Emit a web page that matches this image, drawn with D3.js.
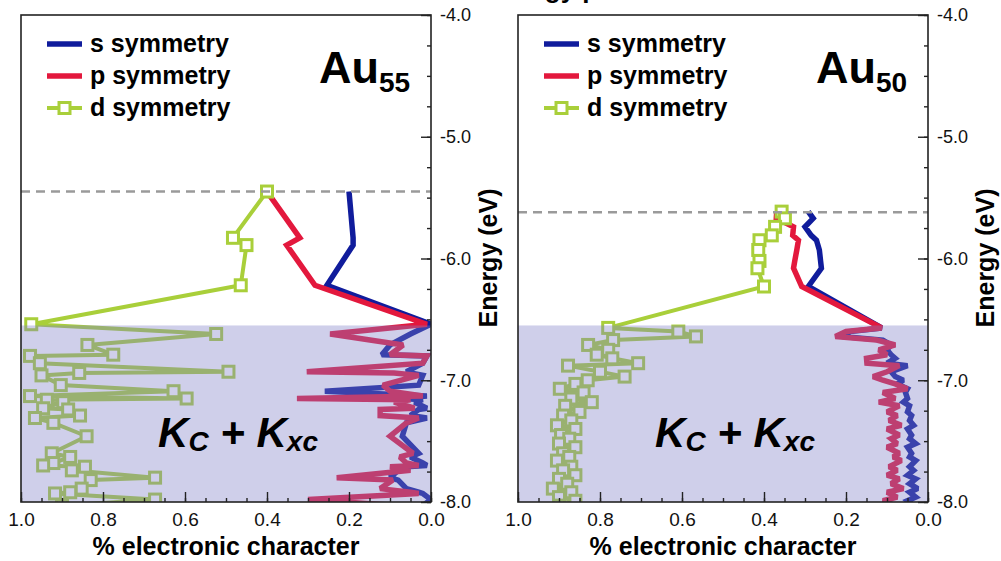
<!DOCTYPE html>
<html>
<head>
<meta charset="utf-8">
<script src="https://cdn.jsdelivr.net/npm/d3@7"></script>
<style>
  html, body { margin: 0; padding: 0; background: #fff; }
  svg { display: block; font-family: "Liberation Sans", Arial, Helvetica, sans-serif; }
</style>
</head>
<body>
<svg id="chart" width="1001" height="561"></svg>
<script>
// Au55 levels (eV) and the s / p / d share of each level
var energyAu55 = [-5.45, -5.83, -5.89, -6.22, -6.54, -6.62, -6.71, -6.79, -6.80, -6.86,
    -6.93, -6.94, -6.96, -7.04, -7.09, -7.13, -7.15, -7.16, -7.18, -7.23,
    -7.24, -7.29, -7.31, -7.35, -7.46, -7.60, -7.63, -7.68, -7.70, -7.71,
    -7.74, -7.80, -7.82, -7.89, -7.92, -7.93, -7.98, -8.03];
var sAu55 = [0.20, 0.19, 0.19, 0.254, 0.0, 0.05, 0.10, 0.12, 0.01, 0.02,
    0.06, 0.05, 0.02, 0.03, 0.259, 0.01, 0.07, 0.02, 0.04, 0.01,
    0.03, 0.05, 0.01, 0.06, 0.07, 0.03, 0.05, 0.02, 0.01, 0.06,
    0.08, 0.10, 0.08, 0.06, 0.03, 0.02, 0.0, 0.02];
var pAu55 = [0.40, 0.32, 0.352, 0.283, 0.01, 0.246, 0.068, 0.10, 0.01, 0.02,
    0.303, 0.09, 0.03, 0.117, 0.10, 0.02, 0.327, 0.05, 0.09, 0.04,
    0.124, 0.124, 0.03, 0.06, 0.10, 0.044, 0.076, 0.06, 0.03, 0.10,
    0.05, 0.23, 0.093, 0.124, 0.05, 0.03, 0.30, 0.08];
var dAu55 = [0.40, 0.483, 0.45, 0.464, 0.975, 0.524, 0.838, 0.775, 0.978, 0.954,
    0.494, 0.858, 0.95, 0.903, 0.628, 0.978, 0.596, 0.937, 0.897, 0.946,
    0.885, 0.856, 0.966, 0.921, 0.84, 0.925, 0.88, 0.921, 0.946, 0.844,
    0.876, 0.673, 0.83, 0.852, 0.88, 0.917, 0.673, 0.90];

// Au50 levels
var energyAu50 = [-5.615, -5.67, -5.74, -5.81, -5.85, -5.93, -6.02, -6.08, -6.23, -6.57,
    -6.60, -6.64, -6.67, -6.71, -6.75, -6.79, -6.82, -6.86, -6.88, -6.93,
    -6.97, -7.00, -7.03, -7.07, -7.10, -7.15, -7.18, -7.21, -7.26, -7.29,
    -7.33, -7.37, -7.40, -7.45, -7.48, -7.52, -7.55, -7.60, -7.63, -7.66,
    -7.71, -7.74, -7.78, -7.81, -7.85, -7.89, -7.92, -7.96, -7.99, -8.03];
var sAu50 = [0.292, 0.28, 0.30, 0.285, 0.272, 0.265, 0.262, 0.26, 0.292, 0.113,
    0.19, 0.21, 0.11, 0.09, 0.10, 0.09, 0.08, 0.10, 0.05, 0.09,
    0.08, 0.06, 0.075, 0.05, 0.055, 0.05, 0.06, 0.045, 0.05, 0.04,
    0.045, 0.035, 0.05, 0.04, 0.045, 0.03, 0.05, 0.04, 0.045, 0.03,
    0.045, 0.035, 0.05, 0.03, 0.045, 0.025, 0.045, 0.03, 0.05, 0.035];
var pAu50 = [0.369, 0.37, 0.328, 0.33, 0.316, 0.32, 0.325, 0.328, 0.308, 0.113,
    0.20, 0.226, 0.125, 0.08, 0.12, 0.10, 0.15, 0.149, 0.07, 0.10,
    0.134, 0.11, 0.08, 0.05, 0.11, 0.08, 0.12, 0.07, 0.10, 0.075,
    0.095, 0.065, 0.10, 0.07, 0.09, 0.075, 0.10, 0.07, 0.085, 0.065,
    0.095, 0.075, 0.10, 0.07, 0.09, 0.06, 0.10, 0.075, 0.11, 0.08];
var dAu50 = [0.357, 0.349, 0.373, 0.381, 0.411, 0.414, 0.411, 0.416, 0.40, 0.78,
    0.609, 0.566, 0.768, 0.829, 0.78, 0.808, 0.77, 0.707, 0.878, 0.80,
    0.74, 0.83, 0.86, 0.898, 0.84, 0.87, 0.82, 0.885, 0.85, 0.89,
    0.87, 0.905, 0.86, 0.895, 0.875, 0.90, 0.86, 0.89, 0.875, 0.905,
    0.87, 0.89, 0.86, 0.90, 0.88, 0.915, 0.87, 0.90, 0.86, 0.90];

var xTicks = [1.0, 0.8, 0.6, 0.4, 0.2, 0.0];
var yTicks = [-4, -5, -6, -7, -8];
var seriesKeys = ["s", "p", "d"];
var seriesNames = ["s symmetry", "p symmetry", "d symmetry"];
var seriesColors = ["#101c9c", "#e3183d", "#a9cf3a"];
var shadeTop = -6.55;

var plotTop = 15, plotBottom = 502;
var svg = d3.select("#chart");
var fmt = function (v) { return v.toFixed(1); };

// cut-off figure title at the very top
svg.append("text")
    .attr("x", 487).attr("y", -2)
    .attr("font-size", 26).attr("font-weight", "bold")
    .text("Energy partition");

function drawPanel(cfg) {
    var x = d3.scaleLinear().domain([1, 0]).range([cfg.x0, cfg.x1]);
    var y = d3.scaleLinear().domain([-4, -8]).range([plotTop, plotBottom]);
    var cx = (cfg.x0 + cfg.x1) / 2;
    var g = svg.append("g");

    var clipId = "clip-" + cfg.id;
    svg.append("clipPath").attr("id", clipId)
        .append("rect")
        .attr("x", cfg.x0).attr("y", plotTop)
        .attr("width", cfg.x1 - cfg.x0).attr("height", plotBottom - plotTop);

    var plot = g.append("g").attr("clip-path", "url(#" + clipId + ")");
    var rows = cfg.energy.map(function (e, i) {
        return {e: e, s: cfg.s[i], p: cfg.p[i], d: cfg.d[i]};
    });

    seriesKeys.forEach(function (key, k) {
        var line = d3.line()
            .x(function (r) { return x(r[key]); })
            .y(function (r) { return y(r.e); });
        plot.append("path").datum(rows)
            .attr("d", line)
            .attr("fill", "none")
            .attr("stroke", seriesColors[k])
            .attr("stroke-width", key === "d" ? 4 : 5.5)
            .attr("stroke-linejoin", "miter")
            .attr("stroke-miterlimit", 2);
    });

    // open squares on the d series
    plot.selectAll("rect.mk").data(rows).enter().append("rect")
        .attr("class", "mk")
        .attr("x", function (r) { return x(r.d) - 5.5; })
        .attr("y", function (r) { return y(r.e) - 5.5; })
        .attr("width", 11).attr("height", 11)
        .attr("fill", "#fff")
        .attr("stroke", seriesColors[2])
        .attr("stroke-width", 3);

    // translucent band over the lower levels
    plot.append("rect")
        .attr("x", cfg.x0).attr("y", y(shadeTop))
        .attr("width", cfg.x1 - cfg.x0).attr("height", plotBottom - y(shadeTop))
        .attr("fill", "rgb(130,130,200)")
        .attr("opacity", 0.38);

    // HOMO line
    g.append("line")
        .attr("x1", cfg.x0).attr("x2", cfg.x1)
        .attr("y1", y(cfg.homo)).attr("y2", y(cfg.homo))
        .attr("stroke", "#9a9a9a")
        .attr("stroke-width", 2.5)
        .attr("stroke-dasharray", "9,6");

    g.append("text")
        .attr("x", cx + 12).attr("y", 447)
        .attr("text-anchor", "middle")
        .attr("font-weight", "bold").attr("font-style", "italic")
        .style("white-space", "pre")
        .call(function (t) {
            t.append("tspan").attr("font-size", 42).text("K");
            t.append("tspan").attr("font-size", 28).attr("dy", 4).text("C");
            t.append("tspan").attr("font-size", 42).attr("dy", -4).text(" + K");
            t.append("tspan").attr("font-size", 28).attr("dy", 4).text("xc");
        });

    // frame
    g.append("rect")
        .attr("x", cfg.x0).attr("y", plotTop)
        .attr("width", cfg.x1 - cfg.x0).attr("height", plotBottom - plotTop)
        .attr("fill", "none").attr("stroke", "#222").attr("stroke-width", 1.6);

    // bottom axis, ticks point inward
    var bx = g.append("g").attr("transform", "translate(0," + plotBottom + ")")
        .call(d3.axisBottom(x).tickValues(d3.range(0, 1.001, 0.05)).tickSize(-4).tickFormat(""));
    bx.select(".domain").remove();
    var bxMajor = g.append("g").attr("transform", "translate(0," + plotBottom + ")")
        .call(d3.axisBottom(x).tickValues(xTicks).tickSize(-10).tickPadding(11).tickFormat(fmt));
    bxMajor.select(".domain").remove();
    bxMajor.selectAll("text").attr("font-size", 19).attr("fill", "#111")
        .attr("font-family", "Liberation Sans, Arial, sans-serif");

    // energy axis on the right side
    var ry = g.append("g").attr("transform", "translate(" + cfg.x1 + ",0)")
        .call(d3.axisRight(y).tickValues(d3.range(-4, -8.01, -0.25)).tickSize(-4).tickFormat(""));
    ry.select(".domain").remove();
    var ryMajor = g.append("g").attr("transform", "translate(" + cfg.x1 + ",0)")
        .call(d3.axisRight(y).tickValues(yTicks).tickSize(-10).tickPadding(9).tickFormat(fmt));
    ryMajor.select(".domain").remove();
    ryMajor.selectAll("text").attr("font-size", 18).attr("fill", "#111")
        .attr("font-family", "Liberation Sans, Arial, sans-serif");
    g.selectAll(".tick line").attr("stroke", "#222").attr("stroke-width", 1.4);

    g.append("text")
        .attr("x", cx).attr("y", 555)
        .attr("text-anchor", "middle")
        .attr("font-size", 25).attr("font-weight", "bold")
        .text("% electronic character");

    g.append("text")
        .attr("transform", "translate(" + (cfg.x1 + 57) + ",258) rotate(-90)")
        .attr("text-anchor", "middle").attr("dy", "0.35em")
        .attr("font-size", 25).attr("font-weight", "bold")
        .text("Energy (eV)");

    // cluster label
    g.append("text")
        .attr("x", cfg.x1 - 112).attr("y", 83)
        .attr("font-weight", "bold")
        .call(function (t) {
            t.append("tspan").attr("font-size", 45).text("Au");
            t.append("tspan").attr("font-size", 28).attr("dy", 9).text(cfg.sub);
        });

    // legend
    var lg = g.append("g").attr("transform", "translate(" + (cfg.x0 + 26) + ",0)");
    seriesNames.forEach(function (name, i) {
        var ly = 44 + i * 32;
        lg.append("line")
            .attr("x1", 0).attr("x2", 35).attr("y1", ly).attr("y2", ly)
            .attr("stroke", seriesColors[i])
            .attr("stroke-width", i === 2 ? 4 : 5.5);
        if (i === 2) {
            lg.append("rect")
                .attr("x", 12).attr("y", ly - 5.5).attr("width", 11).attr("height", 11)
                .attr("fill", "#fff").attr("stroke", seriesColors[i]).attr("stroke-width", 3);
        }
        lg.append("text")
            .attr("x", 43).attr("y", ly + 7.5)
            .attr("font-size", 25).attr("font-weight", "bold")
            .text(name);
    });
}

drawPanel({id: "au55", x0: 21, x1: 431, energy: energyAu55, s: sAu55, p: pAu55, d: dAu55,
    homo: -5.45, sub: "55"});
drawPanel({id: "au50", x0: 518, x1: 928, energy: energyAu50, s: sAu50, p: pAu50, d: dAu50,
    homo: -5.62, sub: "50"});
</script>
</body>
</html>
